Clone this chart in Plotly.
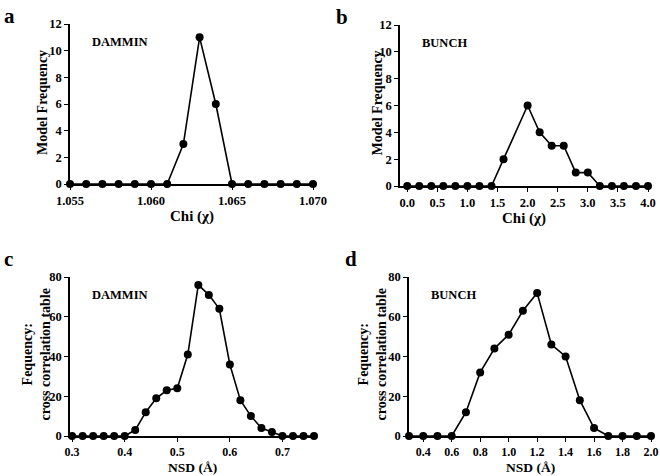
import plotly.graph_objects as go

W, H = 660, 476

# ---- data ----
chi_dammin_x = [1.055, 1.056, 1.057, 1.058, 1.059, 1.060, 1.061, 1.062, 1.063, 1.064,
                1.065, 1.066, 1.067, 1.068, 1.069, 1.070]
chi_dammin_y = [0, 0, 0, 0, 0, 0, 0, 3, 11, 6, 0, 0, 0, 0, 0, 0]

chi_bunch_x = [0.0, 0.2, 0.4, 0.6, 0.8, 1.0, 1.2, 1.4, 1.6, 2.0, 2.2, 2.4, 2.6, 2.8,
               3.0, 3.2, 3.4, 3.6, 3.8, 4.0]
chi_bunch_y = [0, 0, 0, 0, 0, 0, 0, 0, 2, 6, 4, 3, 3, 1, 1, 0, 0, 0, 0, 0]

nsd_dammin_x = [0.30, 0.32, 0.34, 0.36, 0.38, 0.40, 0.42, 0.44, 0.46, 0.48, 0.50, 0.52,
                0.54, 0.56, 0.58, 0.60, 0.62, 0.64, 0.66, 0.68, 0.70, 0.72, 0.74, 0.76]
nsd_dammin_y = [0, 0, 0, 0, 0, 0, 3, 12, 19, 23, 24, 41, 76, 71, 64, 36, 18, 10, 4, 2,
                0, 0, 0, 0]

nsd_bunch_x = [0.3, 0.4, 0.5, 0.6, 0.7, 0.8, 0.9, 1.0, 1.1, 1.2, 1.3, 1.4, 1.5, 1.6,
               1.7, 1.8, 1.9, 2.0]
nsd_bunch_y = [0, 0, 0, 0, 12, 32, 44, 51, 63, 72, 46, 40, 18, 4, 0, 0, 0, 0]

panel_letters = ["a", "b", "c", "d"]
method_labels = ["DAMMIN", "BUNCH", "DAMMIN", "BUNCH"]
x_titles = ["Chi (χ)", "Chi (χ)", "NSD (Å)", "NSD (Å)"]
y_titles = ["Model Frequency", "Model Frequency",
            "Fequency:<br>cross correlation table", "Fequency:<br>cross correlation table"]

FONT = "Liberation Serif, Times New Roman, serif"

def px(x):
    return x / W

def py(y):
    return 1 - y / H

# pixel boxes: (left, right, top, bottom)
boxes = [(70, 313, 24, 184), (400, 648, 25, 186), (70, 314, 277, 436), (409, 651, 277, 436)]
xranges = [[1.055, 1.070], [-0.12, 4.0], [0.296, 0.76], [0.3, 2.0]]
yranges = [[0, 12], [0, 12], [0, 80], [0, 80]]
xticks = [[1.055, 1.060, 1.065, 1.070], [0, 0.5, 1.0, 1.5, 2.0, 2.5, 3.0, 3.5, 4.0],
          [0.3, 0.4, 0.5, 0.6, 0.7], [0.4, 0.6, 0.8, 1.0, 1.2, 1.4, 1.6, 1.8, 2.0]]
xfmt = [".3f", ".1f", ".1f", ".1f"]
yticks = [[0, 2, 4, 6, 8, 10, 12], [0, 2, 4, 6, 8, 10, 12],
          [0, 20, 40, 60, 80], [0, 20, 40, 60, 80]]

series = [(chi_dammin_x, chi_dammin_y), (chi_bunch_x, chi_bunch_y),
          (nsd_dammin_x, nsd_dammin_y), (nsd_bunch_x, nsd_bunch_y)]

fig = go.Figure()
layout = dict(width=W, height=H, margin=dict(l=0, r=0, t=0, b=0, autoexpand=False),
              paper_bgcolor="white", plot_bgcolor="white", showlegend=False,
              font=dict(family=FONT, color="black"))
annotations = []

for i, (xs, ys) in enumerate(series):
    n = "" if i == 0 else str(i + 1)
    fig.add_trace(go.Scatter(x=xs, y=ys, mode="lines+markers", xaxis="x" + n, yaxis="y" + n,
                             line=dict(color="black", width=1.6),
                             marker=dict(color="black", size=8),
                             cliponaxis=False))
    l, r, t, b = boxes[i]
    axfont = dict(family=FONT, size=12.5, color="black", weight="bold")
    xfont = dict(family=FONT, size=12.5 if i < 2 else 12, color="black", weight="bold")
    layout["xaxis" + n] = dict(domain=[px(l), px(r)], range=xranges[i], anchor="y" + n,
                               tickvals=xticks[i], tickformat=xfmt[i], ticks="outside",
                               ticklen=4, tickwidth=1.3, tickcolor="black", automargin=False,
                               showline=True, linecolor="black", linewidth=1.6,
                               showgrid=False, zeroline=False, tickfont=xfont)
    layout["yaxis" + n] = dict(domain=[py(b), py(t)], range=yranges[i], anchor="x" + n,
                               tickvals=yticks[i], ticks="outside", ticklen=4,
                               tickwidth=1.3, tickcolor="black", automargin=False,
                               showline=True, linecolor="black", linewidth=1.6,
                               showgrid=False, zeroline=False, tickfont=axfont)
    # panel letter
    annotations.append(dict(text="<b>%s</b>" % panel_letters[i], xref="paper", yref="paper",
                            x=px(l - 68 if i % 2 == 0 else l - 66), y=py(t - 22 if i < 2 else t - 32),
                            xanchor="left", yanchor="top", showarrow=False,
                            font=dict(family=FONT, size=21, color="black")))
    # method label
    annotations.append(dict(text="<b>%s</b>" % method_labels[i], xref="paper", yref="paper",
                            x=px(l + 20), y=py(t + 18), xanchor="left", yanchor="middle",
                            showarrow=False, font=dict(family=FONT, size=12.5, color="black")))
    # x title
    if i < 2:
        annotations.append(dict(text="<b>%s</b>" % x_titles[i], xref="paper", yref="paper",
                                x=px((l + r) / 2), y=py(b + 33),
                                xanchor="center", yanchor="middle",
                                showarrow=False, font=dict(family=FONT, size=15, color="black")))
    else:
        annotations.append(dict(text="<b>%s</b>" % x_titles[i], xref="paper", yref="paper",
                                x=px((l + r) / 2), y=0, xanchor="center", yanchor="bottom",
                                borderpad=0,
                                showarrow=False, font=dict(family=FONT, size=13.5, color="black")))
    # y title
    ytx = [42, 377, 36, 372][i]
    annotations.append(dict(text="<b>%s</b>" % y_titles[i], xref="paper", yref="paper",
                            x=px(ytx), y=py((t + b) / 2 - 2), xanchor="center", yanchor="middle",
                            textangle=-90, showarrow=False,
                            font=dict(family=FONT, size=14, color="black")))

layout["annotations"] = annotations
fig.update_layout(**layout)
fig.write_html("out.html", config={"displayModeBar": False},
               post_script="document.body.style.margin='0';document.body.style.padding='0';")
